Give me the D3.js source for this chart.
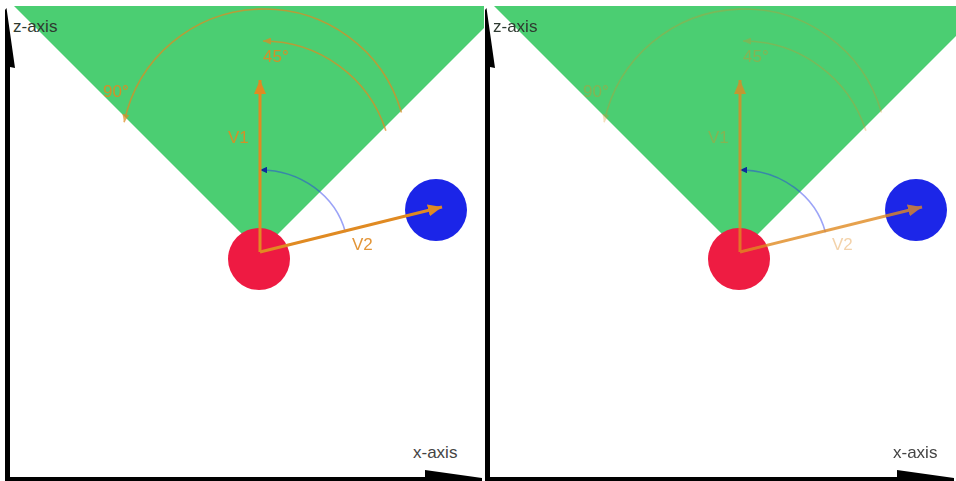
<!DOCTYPE html>
<html><head><meta charset="utf-8">
<script src="https://cdn.jsdelivr.net/npm/d3@7"></script>
<style>
html,body{margin:0;padding:0;background:#fff}
svg{display:block}
text{font-family:"Liberation Sans",Arial,Helvetica,sans-serif}
</style></head>
<body>
<svg id="c" width="956" height="481"></svg>
<script>
// ---------- data (world units, origin = observer, x right, z up) ----------
const panelNames = ["original", "faded"];
const bodyNames = ["observer", "target"];
const bodyX = [-1, 176];
const bodyZ = [-7, 42];
const bodyRadius = [31, 31];
const vectorLabels = ["V1", "V2"];
const vectorX = [0, 182];
const vectorZ = [172, 45];
const fovHalfAngle = 45;
const angleLabels = ["90°", "45°"];
const angleCenterX = [4, 3];
const angleCenterZ = [100, 82];
const angleRadius = [143, 129];
const angleFrom = [16, 17.7];
const angleTo = [168, 90];
const betweenRadiusX = 88;
const betweenRadiusZ = 82;
const axisLabels = ["z-axis", "x-axis"];

// ---------- layout / style ----------
const panelOffset = [0, 480];
const panelLeft = [0, 4];
const panelRight = [484, 476];
const panelTop = 6;
const H = 481;
const fadeArcs = [0.72, 0.3];
const fadeLabels = [0.9, 0.38];
const fadeVectors = [1, 0.8];
const bodyColor = {observer: "#ee1a42", target: "#1b25e8"};
const green = "#4bce72";
const orange = "#e08a22";

const svg = d3.select("#c");
const defs = svg.append("defs");

function marker(id, color, len, half) {
  defs.append("marker").attr("id", id)
    .attr("viewBox", `0 ${-half} ${len} ${2*half}`)
    .attr("refX", len).attr("refY", 0)
    .attr("markerWidth", len).attr("markerHeight", 2*half)
    .attr("markerUnits", "userSpaceOnUse")
    .attr("orient", "auto")
    .append("path").attr("d", `M0,${-half}L${len},0L0,${half}Z`).attr("fill", color);
}
marker("vecHead", orange, 14, 6);
marker("arcHead", orange, 8, 3.5);
marker("blueHead", "#0d2a9a", 7, 3.2);

defs.append("filter").attr("id", "soft")
  .append("feGaussianBlur").attr("stdDeviation", 0.6);

// scales: 1 world unit = 1 px
const x = d3.scaleLinear().domain([-260, 224]).range([0, 484]);
const z = d3.scaleLinear().domain([-229, 252]).range([H, 0]);
const rad = d => d * Math.PI / 180;

panelNames.forEach((name, p) => {
  const g = svg.append("g").attr("transform", `translate(${panelOffset[p]},0)`);
  if (p === 1) g.attr("filter", "url(#soft)");

  defs.append("clipPath").attr("id", "clip" + p)
    .append("rect").attr("x", panelLeft[p]).attr("y", panelTop)
    .attr("width", panelRight[p] - panelLeft[p]).attr("height", H - panelTop);

  const scene = g.append("g").attr("clip-path", `url(#clip${p})`);

  // field of view wedge
  const L = 800;
  const t = Math.tan(rad(fovHalfAngle));
  scene.append("path")
    .attr("d", d3.line()([[x(0), z(0)], [x(-L * t), z(L)], [x(L * t), z(L)]]) + "Z")
    .attr("fill", green);

  // bodies
  scene.selectAll("circle.body").data(bodyNames).join("circle")
    .attr("class", "body")
    .attr("cx", (d, i) => x(bodyX[i])).attr("cy", (d, i) => z(bodyZ[i]))
    .attr("r", (d, i) => bodyRadius[i])
    .attr("fill", d => bodyColor[d]);

  // angle arcs (orange)
  const arcs = scene.append("g").attr("opacity", fadeArcs[p]);
  angleLabels.forEach((lab, i) => {
    const pth = d3.path();
    const cx = x(angleCenterX[i]), cy = z(angleCenterZ[i]), r = angleRadius[i];
    pth.arc(cx, cy, r, -rad(angleFrom[i]), -rad(angleTo[i]), true);
    arcs.append("path").attr("d", pth.toString())
      .attr("fill", "none").attr("stroke", orange).attr("stroke-width", 1.6)
      .attr("marker-end", "url(#arcHead)");
  });

  // angle between V1 and V2 (blue)
  const a0 = Math.atan2(vectorZ[1], vectorX[1]);
  const a1 = Math.atan2(vectorZ[0], vectorX[0]);
  const sx = x(betweenRadiusX * Math.cos(a0)), sy = z(betweenRadiusZ * Math.sin(a0));
  const ex = x(betweenRadiusX * Math.cos(a1)), ey = z(betweenRadiusZ * Math.sin(a1));
  scene.append("path")
    .attr("d", `M${sx},${sy}A${betweenRadiusX},${betweenRadiusZ} 0 0 0 ${ex},${ey}`)
    .attr("fill", "none").attr("stroke", "#2233ee").attr("stroke-opacity", 0.45)
    .attr("stroke-width", 1.6).attr("marker-end", "url(#blueHead)");

  // vectors
  const vecs = scene.append("g").attr("opacity", fadeVectors[p]);
  vecs.selectAll("line").data(vectorLabels).join("line")
    .attr("x1", x(0)).attr("y1", z(0))
    .attr("x2", (d, i) => x(vectorX[i])).attr("y2", (d, i) => z(vectorZ[i]))
    .attr("stroke", orange).attr("stroke-width", 3)
    .attr("marker-end", "url(#vecHead)");

  // labels
  const labs = scene.append("g").attr("opacity", fadeLabels[p])
    .attr("fill", orange).attr("font-size", 17);
  const angleLabelPos = [[-157, 155], [3, 190]];
  angleLabels.forEach((lab, i) => {
    labs.append("text").attr("x", x(angleLabelPos[i][0])).attr("y", z(angleLabelPos[i][1])).text(lab);
  });
  const vecLabelPos = [[-32, 109], [92, 2]];
  vectorLabels.forEach((lab, i) => {
    labs.append("text").attr("x", x(vecLabelPos[i][0])).attr("y", z(vecLabelPos[i][1])).text(lab);
  });

  // axes
  const ax = g.append("g").attr("fill", "#000");
  const zx = x(-252.5);
  ax.append("path").attr("d",
    `M${zx-2.5},${H}L${zx-2.5},${10}L${zx-1},${8}L${zx+7.5},${68}L${zx+2.5},${67}L${zx+2.5},${H}Z`);
  const xr = panelRight[p] - 2;
  ax.append("path").attr("d",
    `M${zx-2.5},${H}L${zx-2.5},${477}L${xr-57},${477}L${xr-57},${470}L${xr},${478}L${xr},${H}Z`);

  g.append("text").attr("x", x(-247)).attr("y", z(220)).attr("font-size", 17)
    .attr("fill", "#2e3a30").text(axisLabels[0]);
  g.append("text").attr("x", x(153)).attr("y", z(-206)).attr("font-size", 17)
    .attr("fill", "#444").text(axisLabels[1]);
});
</script>
</body></html>
